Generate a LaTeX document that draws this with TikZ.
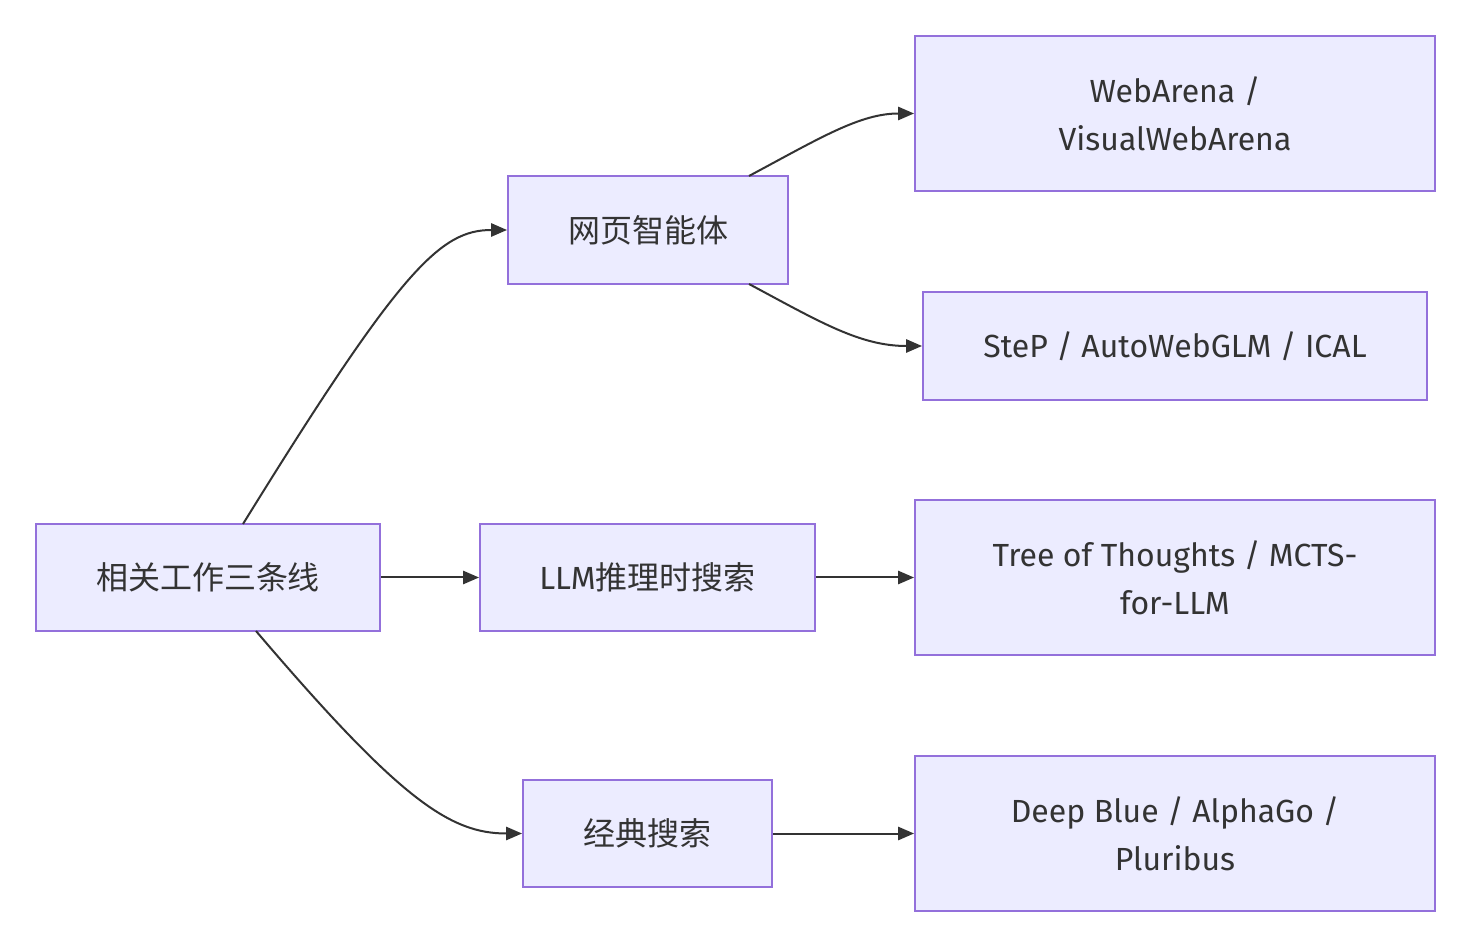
\documentclass[tikz,border=0pt]{standalone}
\usepackage{fontspec}
\setmainfont{Fira Sans}
\newfontfamily\cjk{Noto Sans CJK SC}
\usetikzlibrary{arrows.meta}
\definecolor{boxfill}{HTML}{ECECFF}
\definecolor{boxline}{HTML}{9370DB}
\definecolor{ink}{HTML}{333333}
\begin{document}
\begin{tikzpicture}[x=0.75pt,y=-0.75pt,
  box/.style={draw=boxline,fill=boxfill,line width=1.5pt,inner sep=0pt,
    text=ink,font=\fontsize{24pt}{36pt}\selectfont,align=center},
  conn/.style={draw=ink,line width=1.5pt,-{Triangle[length=12pt,width=10pt]}}]
\useasboundingbox (0,0) rectangle (1472,948);
\node[box,minimum width=258pt,minimum height=80.25pt] (A) at (208,577.5) {\cjk 相关工作三条线};
\node[box,minimum width=210pt,minimum height=81pt] (B) at (648,230) {\cjk 网页智能体};
\node[box,minimum width=251.25pt,minimum height=80.25pt] (C) at (647.5,577.5) {LLM{\cjk 推理时搜索}};
\node[box,minimum width=186.75pt,minimum height=80.25pt] (D) at (647.5,833.5) {\cjk 经典搜索};
\node[box,minimum width=390pt,minimum height=116.25pt] (E) at (1175,113.5) {WebArena /\\VisualWebArena};
\node[box,minimum width=378pt,minimum height=81pt] (F) at (1175,346) {SteP / AutoWebGLM / ICAL};
\node[box,minimum width=390pt,minimum height=116.25pt] (G) at (1175,577.5) {Tree of Thoughts / MCTS-\\for-LLM};
\node[box,minimum width=390pt,minimum height=116.25pt] (H) at (1175,833.5) {Deep Blue / AlphaGo /\\Pluribus};
\coordinate (a1) at (243,524);
\coordinate (a2) at (256,631);
\coordinate (b1) at (749,176);
\coordinate (b2) at (749,284);
\draw[conn] (a1) .. controls (400,270) and (440,230) .. (B.west);
\draw[conn] (a2) .. controls (400,800) and (450,833.5) .. (D.west);
\draw[conn] (A.east) -- (C.west);
\draw[conn] (C.east) -- (G.west);
\draw[conn] (D.east) -- (H.west);
\draw[conn] (b1) .. controls (820,138) and (860,113.5) .. (E.west);
\draw[conn] (b2) .. controls (820,322) and (860,346) .. (F.west);
\end{tikzpicture}
\end{document}
